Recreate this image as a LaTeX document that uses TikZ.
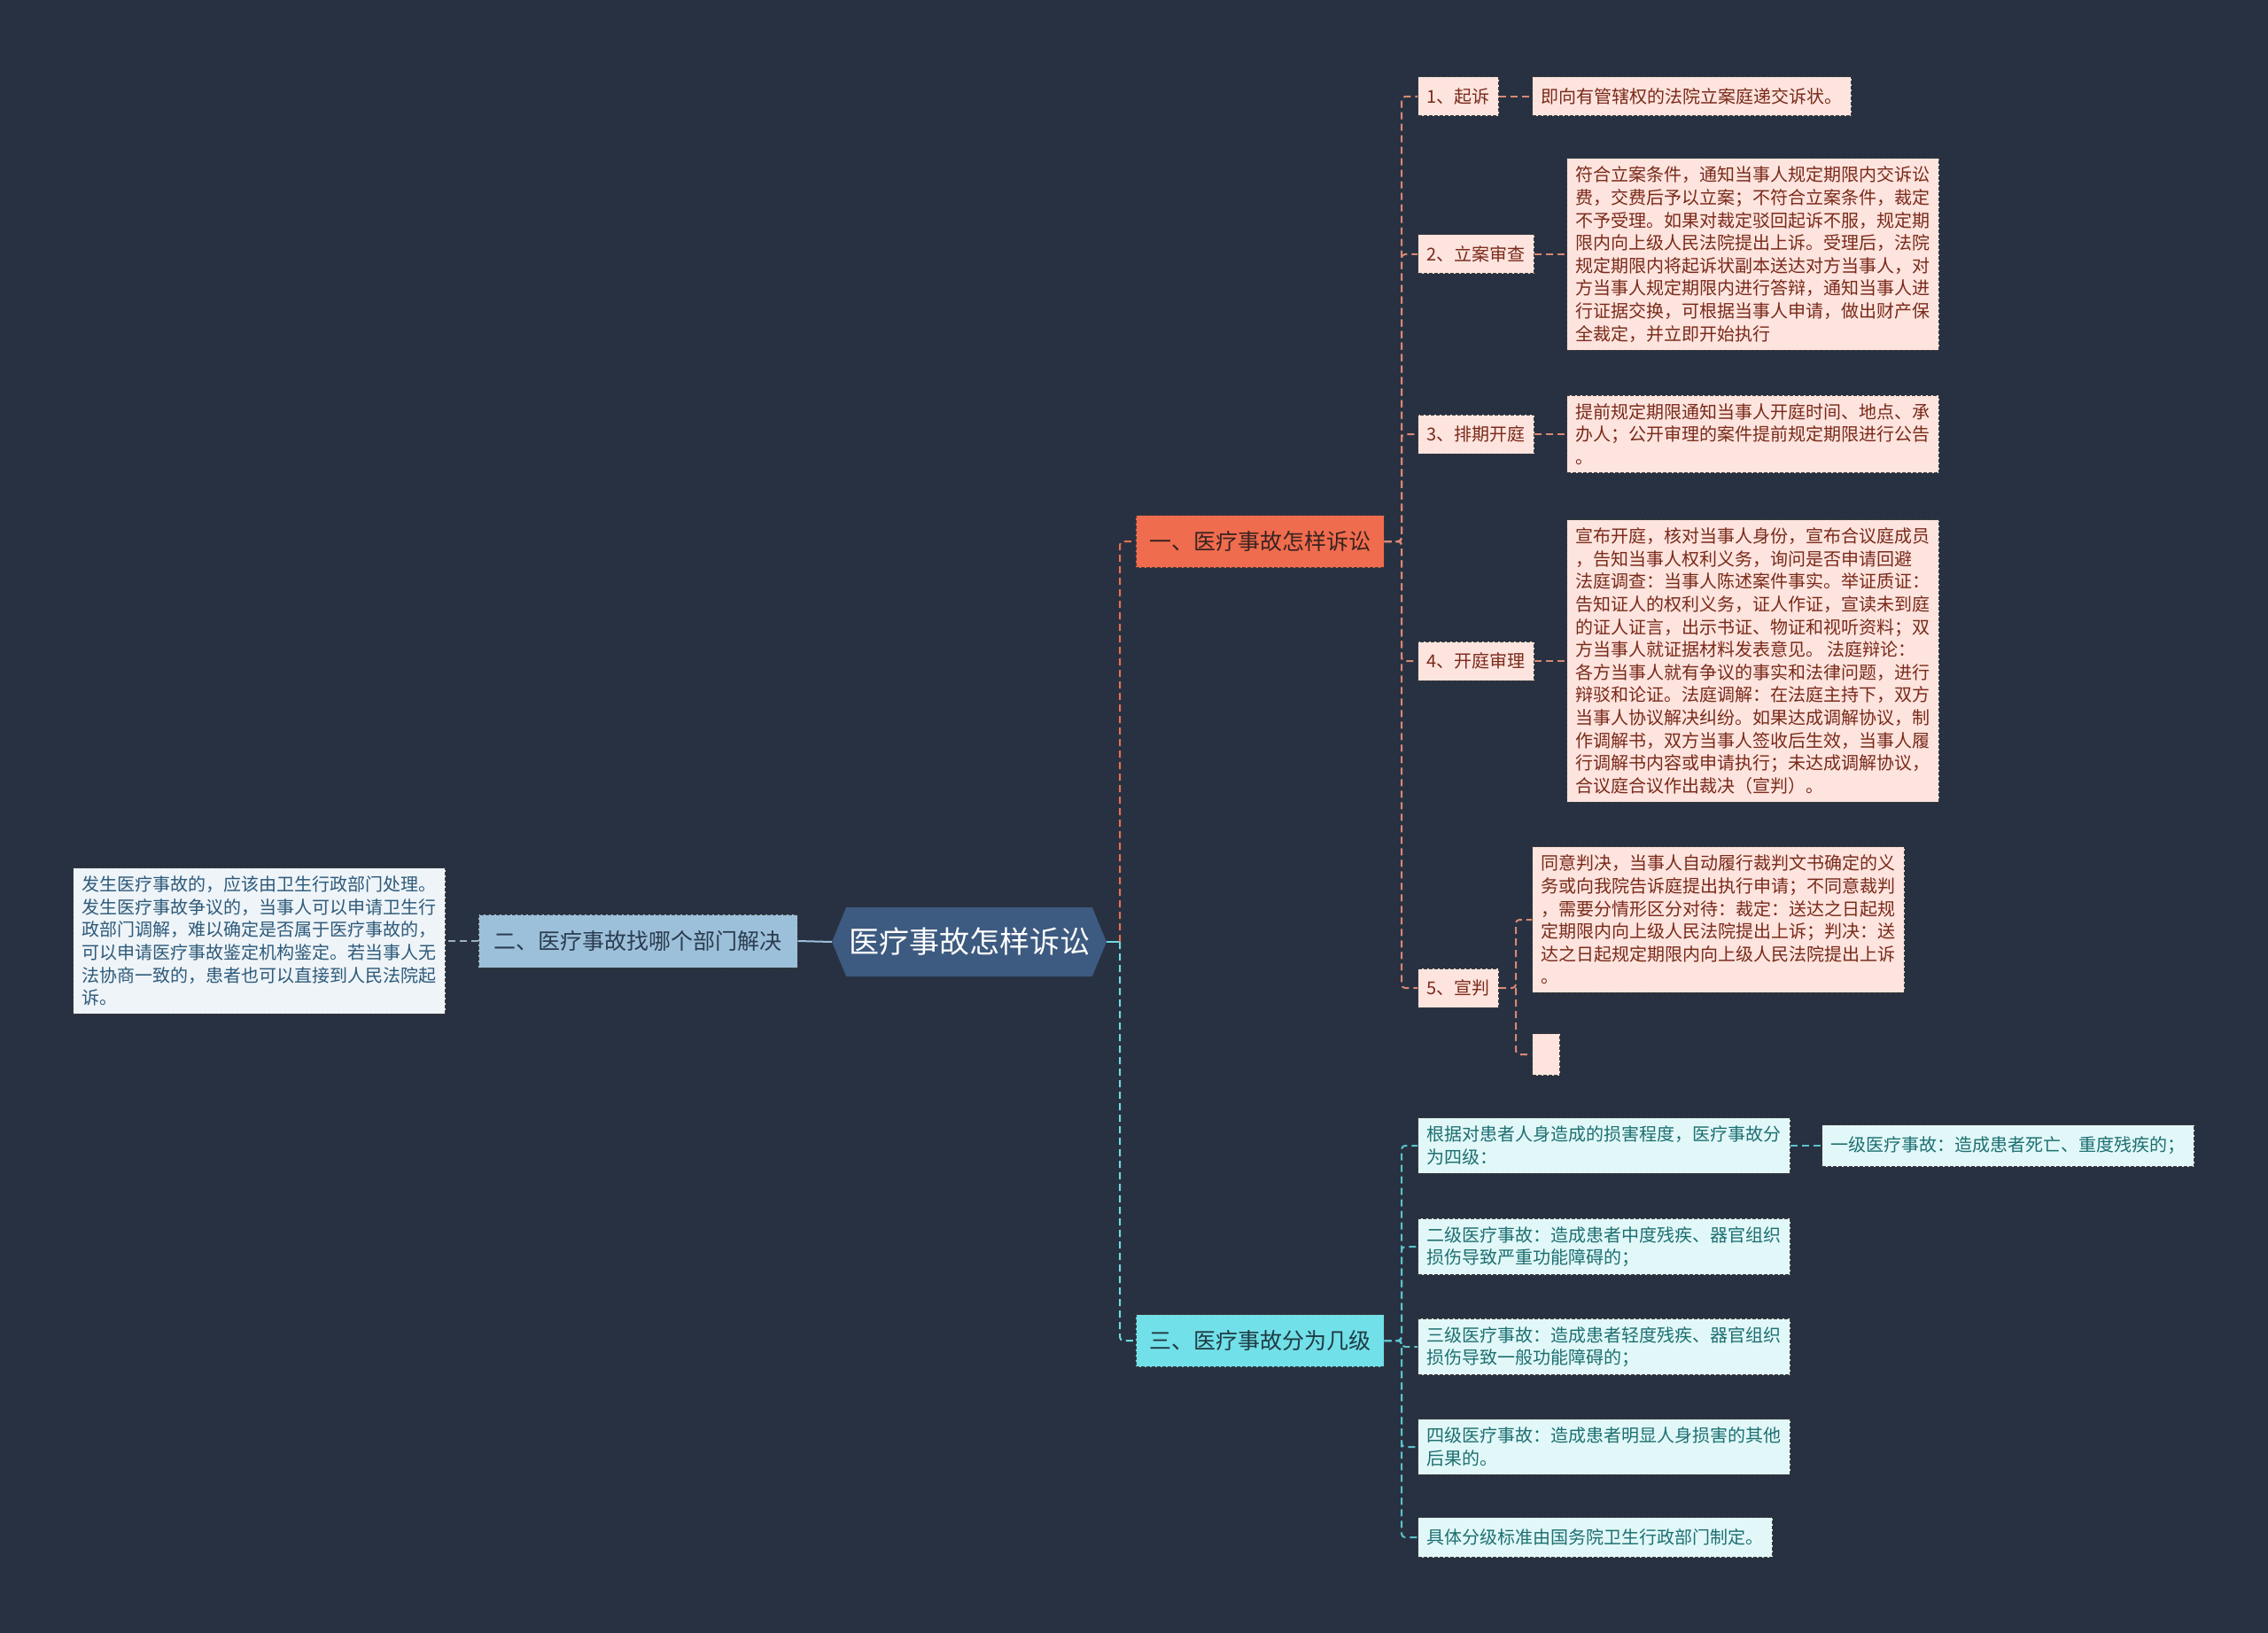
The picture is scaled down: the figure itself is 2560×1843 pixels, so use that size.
\documentclass[tikz,border=0pt]{standalone}
\usepackage{fontspec}
\setmainfont{Noto Sans CJK SC}
\usetikzlibrary{shapes.symbols}
\definecolor{bg}{HTML}{283141}
\definecolor{rootfill}{HTML}{3D5A80}
\definecolor{orangefill}{HTML}{F06C4E}
\definecolor{orangetext}{HTML}{3A2320}
\definecolor{cyanfill}{HTML}{72E0E8}
\definecolor{cyantextd}{HTML}{1E3A44}
\definecolor{bluefill}{HTML}{9DC0DA}
\definecolor{bluetextd}{HTML}{2A3C50}
\definecolor{pinkfill}{HTML}{FDE4DE}
\definecolor{pinktext}{HTML}{7A2A1A}
\definecolor{cyanleaffill}{HTML}{E2F8F8}
\definecolor{cyanleaftext}{HTML}{1D6F72}
\definecolor{blueleaffill}{HTML}{EEF4F8}
\definecolor{blueleaftext}{HTML}{2E5A7A}
\definecolor{boxborder}{HTML}{3C3C3C}
\definecolor{orangeline}{HTML}{E8704F}
\definecolor{salmonline}{HTML}{D98873}
\definecolor{cyanline}{HTML}{6FD9E3}
\definecolor{cyanline2}{HTML}{5CC2CC}
\definecolor{blueline}{HTML}{9CC0DA}
\definecolor{blueline2}{HTML}{9CB0C0}
\tikzset{
  boxdash/.style={draw=boxborder, dash pattern=on 4pt off 2pt, line width=1pt},
  leafbase/.style={boxdash, inner xsep=10pt, inner ysep=9pt, align=left, font=\fontsize{20}{25.6}\selectfont},
  pinkleaf/.style={leafbase, fill=pinkfill, text=pinktext},
  cyanleaf/.style={leafbase, fill=cyanleaffill, text=cyanleaftext},
  blueleaf/.style={leafbase, fill=blueleaffill, text=blueleaftext},
  steplabel/.style={pinkleaf, minimum height=44pt, anchor=west},
  branchbox/.style={boxdash, minimum width=280pt, minimum height=59pt, font=\fontsize{25}{30}\selectfont},
  conn/.style={line width=2pt, dash pattern=on 8pt off 5pt, rounded corners=4pt},
}
\begin{document}
\begin{tikzpicture}[x=1pt,y=-1pt]
\fill[bg] (0,0) rectangle (2560,1843);
\useasboundingbox (0,0) rectangle (2560,1843);

% root
\node[signal, signal to=east and west, signal pointer angle=135, fill=rootfill,
      minimum width=310pt, minimum height=78pt, inner sep=0pt, text=white,
      font=\fontsize{34}{40}\selectfont] (root) at (1094,1063) {医疗事故怎样诉讼};

% branches
\node[branchbox, fill=orangefill, text=orangetext] (b1) at (1422,611) {一、医疗事故怎样诉讼};
\node[branchbox, fill=bluefill, text=bluetextd, minimum width=360pt, minimum height=60pt] (b2) at (720,1062) {二、医疗事故找哪个部门解决};
\node[branchbox, fill=cyanfill, text=cyantextd] (b3) at (1422,1513) {三、医疗事故分为几级};

% branch 2 leaf
\node[blueleaf, anchor=east] (b2l) at (503,1062) {发生医疗事故的，应该由卫生行政部门处理。\\
发生医疗事故争议的，当事人可以申请卫生行\\
政部门调解，难以确定是否属于医疗事故的，\\
可以申请医疗事故鉴定机构鉴定。若当事人无\\
法协商一致的，患者也可以直接到人民法院起\\
诉。};

% branch 1 steps
\node[steplabel] (s1) at (1600,109) {1、起诉};
\node[steplabel] (s2) at (1600,287) {2、立案审查};
\node[steplabel] (s3) at (1600,490) {3、排期开庭};
\node[steplabel] (s4) at (1600,746) {4、开庭审理};
\node[steplabel] (s5) at (1600,1115) {5、宣判};

\node[pinkleaf, anchor=west, minimum height=44pt] (l1) at (1729,109) {即向有管辖权的法院立案庭递交诉状。};
\node[pinkleaf, anchor=west] (l2) at (1768,287) {符合立案条件，通知当事人规定期限内交诉讼\\
费，交费后予以立案；不符合立案条件，裁定\\
不予受理。如果对裁定驳回起诉不服，规定期\\
限内向上级人民法院提出上诉。受理后，法院\\
规定期限内将起诉状副本送达对方当事人，对\\
方当事人规定期限内进行答辩，通知当事人进\\
行证据交换，可根据当事人申请，做出财产保\\
全裁定，并立即开始执行};
\node[pinkleaf, anchor=west] (l3) at (1768,490) {提前规定期限通知当事人开庭时间、地点、承\\
办人；公开审理的案件提前规定期限进行公告\\
。};
\node[pinkleaf, anchor=west] (l4) at (1768,746) {宣布开庭，核对当事人身份，宣布合议庭成员\\
，告知当事人权利义务，询问是否申请回避\\
法庭调查：当事人陈述案件事实。举证质证：\\
告知证人的权利义务，证人作证，宣读未到庭\\
的证人证言，出示书证、物证和视听资料；双\\
方当事人就证据材料发表意见。 法庭辩论：\\
各方当事人就有争议的事实和法律问题，进行\\
辩驳和论证。法庭调解：在法庭主持下，双方\\
当事人协议解决纠纷。如果达成调解协议，制\\
作调解书，双方当事人签收后生效，当事人履\\
行调解书内容或申请执行；未达成调解协议，\\
合议庭合议作出裁决（宣判）。};
\node[pinkleaf, anchor=west] (l5) at (1729,1038) {同意判决，当事人自动履行裁判文书确定的义\\
务或向我院告诉庭提出执行申请；不同意裁判\\
，需要分情形区分对待：裁定：送达之日起规\\
定期限内向上级人民法院提出上诉；判决：送\\
达之日起规定期限内向上级人民法院提出上诉\\
。};
\node[boxdash, fill=pinkfill, anchor=west, minimum width=31pt, minimum height=47pt, inner sep=0pt] (l5b) at (1729,1190) {};

% branch 3 leaves
\node[cyanleaf, anchor=west] (c1) at (1600,1293) {根据对患者人身造成的损害程度，医疗事故分\\
为四级：};
\node[cyanleaf, anchor=west, minimum height=47pt] (c1a) at (2056,1293) {一级医疗事故：造成患者死亡、重度残疾的；};
\node[cyanleaf, anchor=west] (c2) at (1600,1407) {二级医疗事故：造成患者中度残疾、器官组织\\
损伤导致严重功能障碍的；};
\node[cyanleaf, anchor=west] (c3) at (1600,1520) {三级医疗事故：造成患者轻度残疾、器官组织\\
损伤导致一般功能障碍的；};
\node[cyanleaf, anchor=west] (c4) at (1600,1633) {四级医疗事故：造成患者明显人身损害的其他\\
后果的。};
\node[cyanleaf, anchor=west, minimum height=45pt] (c5) at (1600,1735) {具体分级标准由国务院卫生行政部门制定。};

% junction coordinates
\coordinate (jr) at (1264,1063);
\coordinate (j1) at (1582,611);
\coordinate (j5) at (1711,1115);
\coordinate (j3) at (1582,1513);

% root connectors
\draw[line width=2pt, cyanline] (root.east) -- (jr);
\draw[conn, orangeline] (jr) |- (b1.west);
\draw[conn, cyanline] (jr) |- (b3.west);
\draw[line width=2pt, blueline] (root.west) -- (b2.east);
\draw[conn, blueline2] (b2.west) -- (b2l.east);

% branch 1 connectors
\foreach \s in {s1,s2,s3,s4,s5}{
  \draw[conn, salmonline] (b1.east) -- (j1) |- (\s.west);
}
\draw[conn, salmonline] (s1.east) -- (l1.west);
\draw[conn, salmonline] (s2.east) -- (l2.west |- s2.east);
\draw[conn, salmonline] (s3.east) -- (l3.west |- s3.east);
\draw[conn, salmonline] (s4.east) -- (l4.west |- s4.east);
\draw[conn, salmonline] (s5.east) -- (j5) |- (l5.west);
\draw[conn, salmonline] (j5) |- (l5b.west);

% branch 3 connectors
\foreach \c in {c1,c2,c3,c4,c5}{
  \draw[conn, cyanline2] (b3.east) -- (j3) |- (\c.west);
}
\draw[conn, cyanline2] (c1.east) -- (c1a.west);
\end{tikzpicture}
\end{document}
